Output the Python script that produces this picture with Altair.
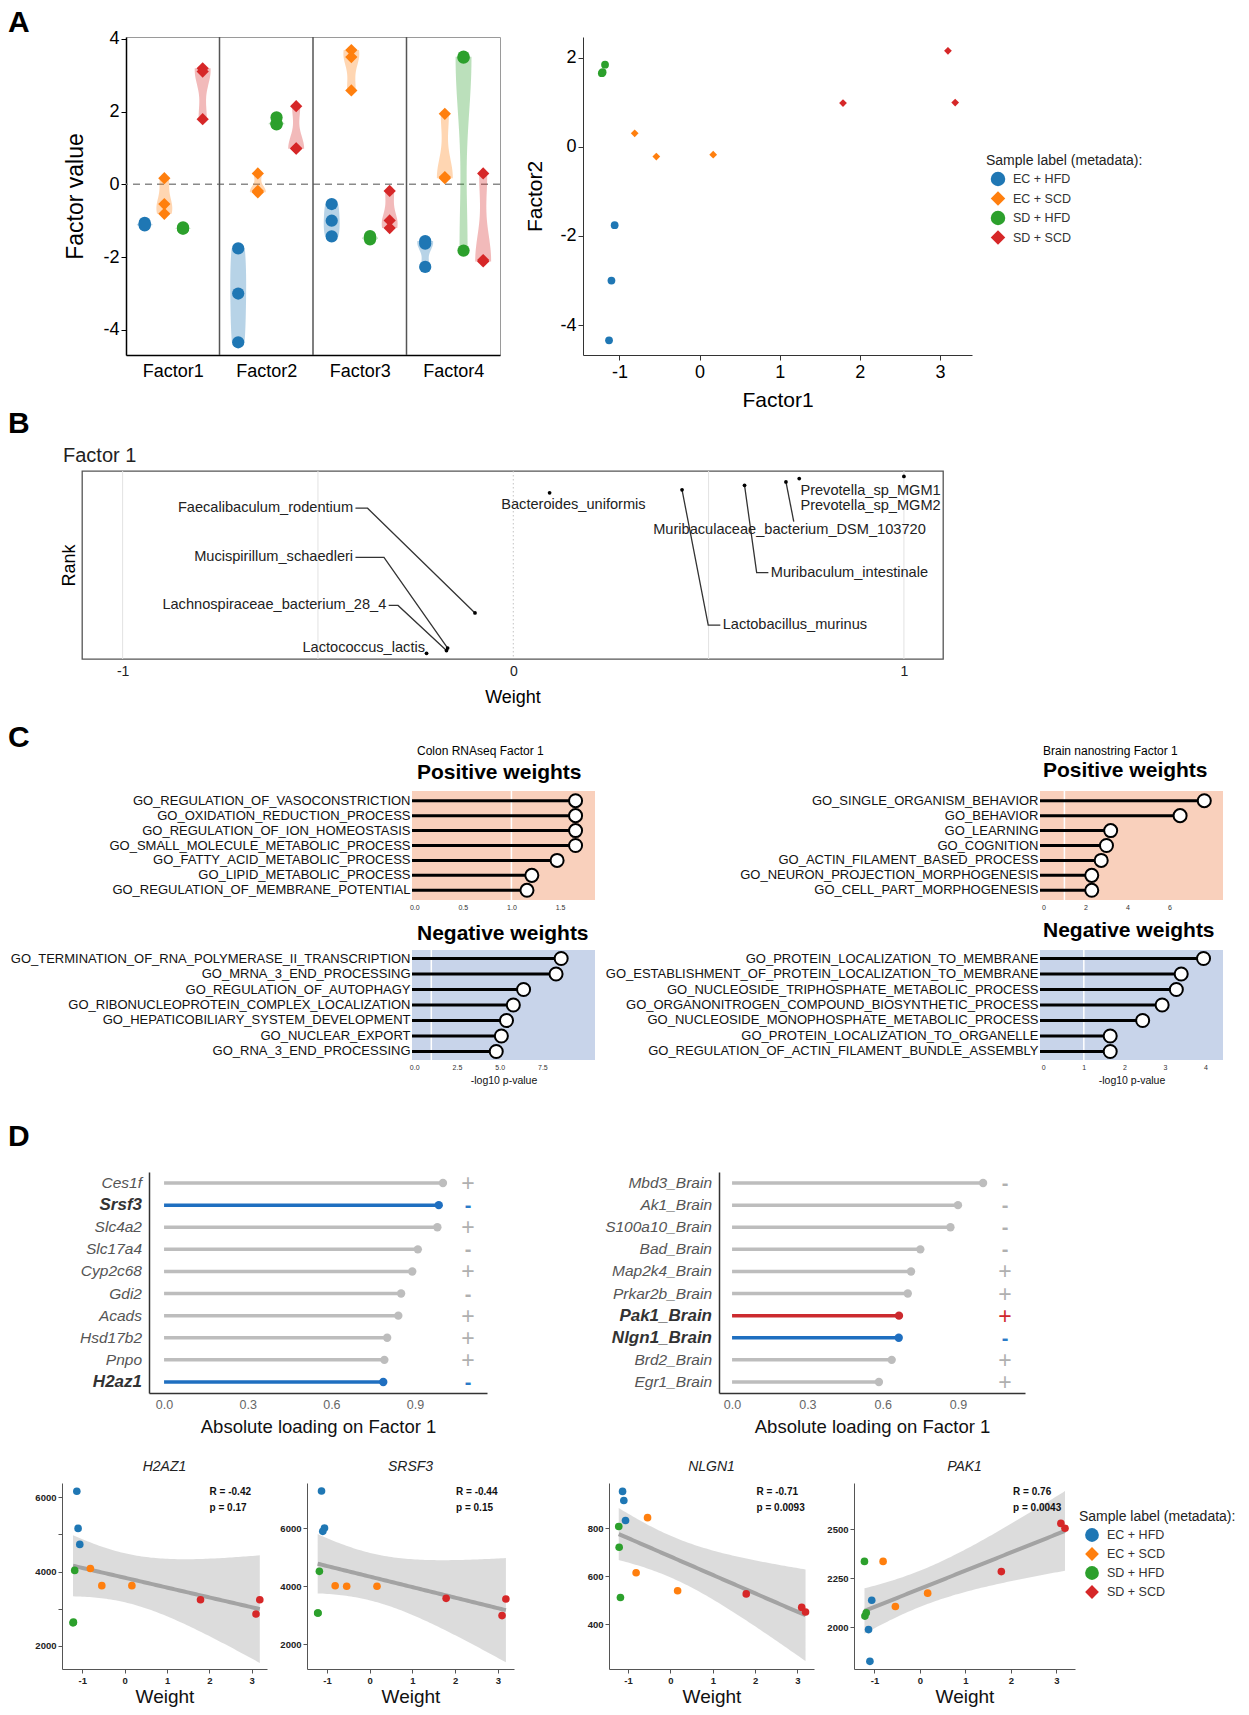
import altair as alt
import numpy as np
import pandas as pd

FONT = "Liberation Sans"
MINUS_FIX = "replace(datum.label, '\u2212', '-')"

# ---------------- shared sample data ----------------
groups = ["EC + HFD", "EC + SCD", "SD + HFD", "SD + SCD"]
sample_group = ["EC + HFD"] * 3 + ["EC + SCD"] * 3 + ["SD + HFD"] * 3 + ["SD + SCD"] * 3
factor_names = ["Factor1", "Factor2", "Factor3", "Factor4"]
factor1 = [-1.06, -1.10, -1.13, -0.81, -0.54, 0.17, -1.22, -1.21, -1.18, 1.79, 3.10, 3.19]
factor2 = [-1.76, -3.00, -4.34, 0.30, -0.22, -0.18, 1.65, 1.67, 1.84, 0.98, 2.15, 0.99]
factor3 = [-0.54, -1.00, -1.43, 3.69, 3.50, 2.58, -1.51, -1.47, -1.42, -0.18, -0.99, -1.20]
factor4 = [-1.56, -1.63, -2.27, 1.94, 0.17, 0.20, 3.51, 3.48, -1.82, 0.30, -2.12, -2.08]

# ---------------- panel B ----------------
b_species = ["Prevotella_sp_MGM1", "Prevotella_sp_MGM2", "Muribaculaceae_bacterium_DSM_103720",
             "Muribaculum_intestinale", "Lactobacillus_murinus", "Bacteroides_uniformis",
             "Faecalibaculum_rodentium", "Mucispirillum_schaedleri", "Lachnospiraceae_bacterium_28_4",
             "Lactococcus_lactis"]
b_weight = [1.00, 0.732, 0.698, 0.592, 0.432, 0.093, -0.098, -0.168, -0.171, -0.222]
b_rank = [0.971, 0.960, 0.942, 0.924, 0.900, 0.884, 0.245, 0.058, 0.045, 0.030]
# label placement (repel layout, in data units)
b_lab_x = [0.735, 0.735, 0.707, 0.659, 0.536, 0.154, -0.41, -0.41, -0.325, -0.226]
b_lab_y = [0.895, 0.814, 0.686, 0.459, 0.180, 0.820, 0.802, 0.541, 0.285, 0.058]
b_lab_align = ["left", "left", "center", "left", "left", "center", "right", "right", "right", "right"]
b_elbow_x = [None, None, 0.718, 0.623, 0.499, None, -0.373, -0.331, -0.295, None]

# ---------------- panel C ----------------
colon_pos_terms = ["GO_REGULATION_OF_VASOCONSTRICTION", "GO_OXIDATION_REDUCTION_PROCESS",
                   "GO_REGULATION_OF_ION_HOMEOSTASIS", "GO_SMALL_MOLECULE_METABOLIC_PROCESS",
                   "GO_FATTY_ACID_METABOLIC_PROCESS", "GO_LIPID_METABOLIC_PROCESS",
                   "GO_REGULATION_OF_MEMBRANE_POTENTIAL"]
colon_pos_vals = [1.66, 1.66, 1.66, 1.66, 1.47, 1.21, 1.16]
colon_neg_terms = ["GO_TERMINATION_OF_RNA_POLYMERASE_II_TRANSCRIPTION", "GO_MRNA_3_END_PROCESSING",
                   "GO_REGULATION_OF_AUTOPHAGY", "GO_RIBONUCLEOPROTEIN_COMPLEX_LOCALIZATION",
                   "GO_HEPATICOBILIARY_SYSTEM_DEVELOPMENT", "GO_NUCLEAR_EXPORT", "GO_RNA_3_END_PROCESSING"]
colon_neg_vals = [8.6, 8.3, 6.4, 5.8, 5.4, 5.1, 4.8]
brain_pos_terms = ["GO_SINGLE_ORGANISM_BEHAVIOR", "GO_BEHAVIOR", "GO_LEARNING", "GO_COGNITION",
                   "GO_ACTIN_FILAMENT_BASED_PROCESS", "GO_NEURON_PROJECTION_MORPHOGENESIS",
                   "GO_CELL_PART_MORPHOGENESIS"]
brain_pos_vals = [7.65, 6.5, 3.2, 3.0, 2.75, 2.3, 2.3]
brain_neg_terms = ["GO_PROTEIN_LOCALIZATION_TO_MEMBRANE", "GO_ESTABLISHMENT_OF_PROTEIN_LOCALIZATION_TO_MEMBRANE",
                   "GO_NUCLEOSIDE_TRIPHOSPHATE_METABOLIC_PROCESS", "GO_ORGANONITROGEN_COMPOUND_BIOSYNTHETIC_PROCESS",
                   "GO_NUCLEOSIDE_MONOPHOSPHATE_METABOLIC_PROCESS", "GO_PROTEIN_LOCALIZATION_TO_ORGANELLE",
                   "GO_REGULATION_OF_ACTIN_FILAMENT_BUNDLE_ASSEMBLY"]
brain_neg_vals = [3.95, 3.4, 3.28, 2.93, 2.45, 1.65, 1.65]

# ---------------- panel D ----------------
colon_genes = ["Ces1f", "Srsf3", "Slc4a2", "Slc17a4", "Cyp2c68", "Gdi2", "Acads", "Hsd17b2", "Pnpo", "H2az1"]
colon_load = [1.00, 0.985, 0.98, 0.91, 0.89, 0.85, 0.84, 0.80, 0.79, 0.786]
colon_sign = ["+", "-", "+", "-", "+", "-", "+", "+", "+", "-"]
colon_hl = ["none", "neg", "none", "none", "none", "none", "none", "none", "none", "neg"]
brain_genes = ["Mbd3_Brain", "Ak1_Brain", "S100a10_Brain", "Bad_Brain", "Map2k4_Brain", "Prkar2b_Brain",
               "Pak1_Brain", "Nlgn1_Brain", "Brd2_Brain", "Egr1_Brain"]
brain_load = [1.00, 0.90, 0.87, 0.75, 0.713, 0.70, 0.665, 0.664, 0.636, 0.585]
brain_sign = ["-", "-", "-", "-", "+", "+", "+", "-", "+", "+"]
brain_hl = ["none", "none", "none", "none", "none", "none", "pos", "neg", "none", "none"]

h2az1 = [4730, 5160, 6160, 4080, 3620, 3620, 2620, 2640, 4030, 3240, 2860, 3240]
srsf3 = [6000, 5885, 7276, 4010, 3990, 3990, 3070, 3070, 4506, 3575, 2980, 3550]
nlgn1 = [832, 915, 953, 615, 844, 540, 807, 721, 512, 527, 471, 452]
pak1 = [2138, 1826, 1988, 2336, 2106, 2174, 2336, 2057, 2074, 2284, 2530, 2505]

# ---------------- styles ----------------
colors = ["#1f77b4", "#ff7f0e", "#2ca02c", "#d62728"]
shapes = ["circle", "diamond", "circle", "diamond"]
group_pos = [0.20, 0.41, 0.61, 0.82]
col_scale = alt.Scale(domain=groups, range=colors)
shape_scale = alt.Scale(domain=groups, range=shapes)


def spacer(w, h, letter="", ly=0):
    return alt.Chart(pd.DataFrame({"t": [letter]})).mark_text(
        align="left", baseline="alphabetic", fontSize=30, fontWeight="bold", color="black", font=FONT
    ).encode(text="t:N", x=alt.value(0), y=alt.value(ly)).properties(width=w, height=h)


# ================= Panel A: violins =================
rowsA = []
for fi, vals in enumerate([factor1, factor2, factor3, factor4]):
    for s, v in enumerate(vals):
        gi = groups.index(sample_group[s])
        rowsA.append(dict(factor=factor_names[fi], group=sample_group[s], value=v, pos=fi + group_pos[gi]))
dfA = pd.DataFrame(rowsA)

xA = alt.Scale(domain=[0, 4], nice=False, zero=False)
yA = alt.Scale(domain=[-4.69, 4.05], nice=False, zero=False)
xaxA = alt.Axis(values=[0.5, 1.5, 2.5, 3.5], labelExpr="['Factor1','Factor2','Factor3','Factor4'][floor(datum.value)]",
                ticks=False, labelFontSize=18, labelColor="black", domainColor="black", domainWidth=1.5,
                labelPadding=7, title=None, grid=False)
yaxA = alt.Axis(values=[-4, -2, 0, 2, 4], labelExpr=MINUS_FIX, labelFontSize=18, labelColor="black",
                domainColor="black", domainWidth=1.5, tickColor="black", tickSize=5, title="Factor value",
                titleFontSize=23, titleFontWeight="normal", titlePadding=15, grid=False)

violin_area = alt.Chart(dfA).transform_density(
    density="value", groupby=["factor", "group", "pos"], as_=["value", "density"], resolve="independent"
).transform_joinaggregate(maxd="max(density)", groupby=["factor", "group"]).transform_calculate(
    xl="datum.pos - 0.085*datum.density/datum.maxd", xr="datum.pos + 0.085*datum.density/datum.maxd"
).mark_area(orient="horizontal", opacity=0.32).encode(
    y=alt.Y("value:Q", scale=yA, axis=yaxA),
    x=alt.X("xl:Q", scale=xA, axis=xaxA),
    x2="xr:Q",
    color=alt.Color("group:N", scale=col_scale, legend=None),
    detail="factor:N",
)
violin_pts = alt.Chart(dfA).mark_point(filled=True, size=150, opacity=1).encode(
    x=alt.X("pos:Q", scale=xA, axis=xaxA),
    y=alt.Y("value:Q", scale=yA, axis=yaxA),
    color=alt.Color("group:N", scale=col_scale, legend=None),
    shape=alt.Shape("group:N", scale=shape_scale, legend=None),
)
zero_rule = alt.Chart(pd.DataFrame({"z": [0]})).mark_rule(color="#8a8a8a", strokeDash=[7, 5], strokeWidth=1.5).encode(
    y=alt.Y("z:Q", scale=yA, axis=yaxA))
sep_rule = alt.Chart(pd.DataFrame({"s": [1, 2, 3]})).mark_rule(color="#555555", strokeWidth=1.5).encode(
    x=alt.X("s:Q", scale=xA, axis=xaxA))
violin = alt.layer(zero_rule, violin_area, sep_rule, violin_pts).properties(
    width=374, height=318, view=alt.ViewBackground(stroke="#9a9a9a", strokeWidth=1))

# ================= Panel A: scatter =================
dfS = pd.DataFrame({"f1": factor1, "f2": factor2, "group": sample_group})
scatter = alt.Chart(dfS).mark_point(filled=True, size=60, opacity=1).encode(
    x=alt.X("f1:Q", scale=alt.Scale(domain=[-1.455, 3.40], nice=False, zero=False),
            axis=alt.Axis(values=[-1, 0, 1, 2, 3], labelExpr=MINUS_FIX, labelFontSize=18, labelColor="black",
                          tickColor="#333", domainColor="#333", tickSize=5, labelPadding=3, title="Factor1",
                          titleFontSize=21, titleFontWeight="normal", titlePadding=8, grid=False)),
    y=alt.Y("f2:Q", scale=alt.Scale(domain=[-4.67, 2.46], nice=False, zero=False),
            axis=alt.Axis(values=[-4, -2, 0, 2], labelExpr=MINUS_FIX, labelFontSize=18, labelColor="black",
                          tickColor="#333", domainColor="#333", tickSize=5, title="Factor2", titleFontSize=21,
                          titleFontWeight="normal", titlePadding=14, grid=False)),
    color=alt.Color("group:N", scale=col_scale, legend=None),
    shape=alt.Shape("group:N", scale=shape_scale, legend=None),
).properties(width=389, height=318)


def legend_chart(w, h, title_x, title_y, sym_x, txt_x, y0, dy, title_size, txt_size, sym_size):
    dfl = pd.DataFrame({"group": groups})
    dfl["py"] = [y0 + dy * i for i in range(len(groups))]
    title = alt.Chart(pd.DataFrame({"t": ["Sample label (metadata):"]})).mark_text(
        align="left", baseline="middle", fontSize=title_size, color="#222", font=FONT
    ).encode(text="t:N", x=alt.value(title_x), y=alt.value(title_y))
    syms = alt.Chart(dfl).mark_point(filled=True, size=sym_size, opacity=1).encode(
        x=alt.value(sym_x), y=alt.Y("py:Q", scale=None),
        color=alt.Color("group:N", scale=col_scale, legend=None),
        shape=alt.Shape("group:N", scale=shape_scale, legend=None))
    txt = alt.Chart(dfl).mark_text(align="left", baseline="middle", fontSize=txt_size, color="#333", font=FONT).encode(
        x=alt.value(txt_x), y=alt.Y("py:Q", scale=None), text="group:N")
    return alt.layer(title, syms, txt).properties(width=w, height=h)


legendA = legend_chart(195, 318, 14, 124, 26, 41, 142, 19.5, 14, 12.5, 210)

# ================= Panel B =================
dfB = pd.DataFrame({"name": b_species, "w": b_weight, "r": b_rank, "lx": b_lab_x, "ly": b_lab_y,
                    "align": b_lab_align})
xB = alt.Scale(domain=[-1.104, 1.10], nice=False, zero=False)
yB = alt.Scale(domain=[0, 1], nice=False, zero=False)
xaxB = alt.Axis(values=[-1, 0, 1], labelExpr=MINUS_FIX, ticks=False, domain=False, labelFontSize=14,
                labelColor="#222", labelPadding=5, title="Weight", titleFontSize=18, titleFontWeight="normal",
                titlePadding=10, grid=False)
yaxB = alt.Axis(labels=False, ticks=False, domain=False, title="Rank", titleFontSize=18, titleFontWeight="normal",
                titlePadding=4, grid=False)

conn = []
for i, nm in enumerate(b_species):
    ex = b_elbow_x[i]
    if ex is None:
        continue
    w, r, lx, ly, al = b_weight[i], b_rank[i], b_lab_x[i], b_lab_y[i], b_lab_align[i]
    if al == "right":
        pts = [(lx + 0.006, ly), (ex, ly), (w, r)]
    elif al == "left":
        pts = [(w, r), (ex, ly), (lx - 0.006, ly)]
    else:
        pts = [(w, r), (ex, ly + 0.045)]
    for k, (px, py) in enumerate(pts):
        conn.append(dict(name=nm, k=k, x=px, y=py))
dfConn = pd.DataFrame(conn)

gridB = alt.Chart(pd.DataFrame({"g": [-1, -0.5, 0.5, 1]})).mark_rule(color="#e2e2e2", strokeWidth=1).encode(
    x=alt.X("g:Q", scale=xB, axis=xaxB))
zeroB = alt.Chart(pd.DataFrame({"z": [0]})).mark_rule(color="#c4c4c4", strokeDash=[1.5, 2.5], strokeWidth=1).encode(
    x=alt.X("z:Q", scale=xB, axis=xaxB))
linesB = alt.Chart(dfConn).mark_line(color="#333333", strokeWidth=1.3).encode(
    x=alt.X("x:Q", scale=xB, axis=xaxB), y=alt.Y("y:Q", scale=yB, axis=yaxB), detail="name:N", order="k:Q")
ptsB = alt.Chart(dfB).mark_circle(size=14, color="black", opacity=1).encode(
    x=alt.X("w:Q", scale=xB, axis=xaxB), y=alt.Y("r:Q", scale=yB, axis=yaxB))
labB = []
for al in ["left", "center", "right"]:
    labB.append(alt.Chart(dfB).transform_filter(alt.datum.align == al).mark_text(
        align=al, baseline="middle", fontSize=14.6, color="#222", font=FONT).encode(
        x=alt.X("lx:Q", scale=xB, axis=xaxB), y=alt.Y("ly:Q", scale=yB, axis=yaxB), text="name:N"))
panelB = alt.layer(gridB, zeroB, linesB, ptsB, *labB).properties(
    width=861, height=188, view=alt.ViewBackground(stroke="#555555", strokeWidth=1.3),
    title=alt.TitleParams("Factor 1", anchor="start", fontSize=20, fontWeight="normal", color="#222",
                          offset=5, dx=3, font=FONT))


# ================= Panel C =================
def go_panel(terms, vals, dom, tick_vals, tick_fmt, bg, xtitle, heads, width=183, height=109, pad_outer=0.15):
    df = pd.DataFrame({"term": terms, "val": vals})
    df["x0"] = dom[0]
    xs = alt.Scale(domain=dom, nice=False, zero=False)
    ys = alt.Scale(domain=terms, paddingInner=0, paddingOuter=pad_outer)
    xax = alt.Axis(values=tick_vals, format=tick_fmt, labelFontSize=7, ticks=False, domain=False, grid=False,
                   labelPadding=3, labelColor="#333", title=xtitle, titleFontSize=10.5,
                   titleFontWeight="normal", titlePadding=5, titleColor="#111")
    yax = alt.Axis(title=None, ticks=False, domain=False, labelFontSize=13, labelPadding=2, labelColor="#111",
                   labelLimit=800, grid=False)
    thr = alt.Chart(pd.DataFrame({"t": [1]})).mark_rule(color="white", strokeWidth=1.5).encode(
        x=alt.X("t:Q", scale=xs, axis=xax))
    seg = alt.Chart(df).mark_rule(color="black", strokeWidth=3).encode(
        y=alt.Y("term:N", scale=ys, axis=yax), x=alt.X("x0:Q", scale=xs, axis=xax), x2="val:Q")
    pts = alt.Chart(df).mark_point(filled=True, fill="white", stroke="black", strokeWidth=2, size=170,
                                   opacity=1, fillOpacity=1).encode(
        y=alt.Y("term:N", scale=ys, axis=yax), x=alt.X("val:Q", scale=xs, axis=xax))
    layers = [thr, seg, pts]
    for txt, dx, dy, size, weight in heads:
        layers.append(alt.Chart(pd.DataFrame({"t": [txt]})).mark_text(
            align="left", baseline="middle", fontSize=size, fontWeight=weight, color="black", font=FONT
        ).encode(text="t:N", x=alt.value(dx), y=alt.value(dy)))
    return alt.layer(*layers).properties(width=width, height=height,
                                         view=alt.ViewBackground(fill=bg, stroke=None))


POS_BG = "#f9d0bc"
NEG_BG = "#c8d4ea"
colonPos = go_panel(colon_pos_terms, colon_pos_vals, [-0.023, 1.86], [0, 0.5, 1.0, 1.5], ".1f", POS_BG, None,
                    [("Colon RNAseq Factor 1", 5, -40, 12, "normal"), ("Positive weights", 5, -18, 21, "bold")])
colonNeg = go_panel(colon_neg_terms, colon_neg_vals, [-0.13, 10.58], [0, 2.5, 5.0, 7.5], ".1f", NEG_BG,
                    "-log10 p-value", [("Negative weights", 5, -16, 21, "bold")], height=110, pad_outer=0.05)
brainPos = go_panel(brain_pos_terms, brain_pos_vals, [-0.16, 8.54], [0, 2, 4, 6], "d", POS_BG, None,
                    [("Brain nanostring Factor 1", 3, -40, 12, "normal"), ("Positive weights", 3, -20, 21, "bold")])
brainNeg = go_panel(brain_neg_terms, brain_neg_vals, [-0.08, 4.43], [0, 1, 2, 3, 4], "d", NEG_BG,
                    "-log10 p-value", [("Negative weights", 3, -19, 21, "bold")], height=110, pad_outer=0.05)

# ================= Panel D top: loadings =================
KIND_LINE = {"none": "#bdbdbd", "neg": "#1f6fc0", "pos": "#cc2a2f"}
KIND_SIGN = {"none": "#b0b0b0", "neg": "#2a7bc8", "pos": "#d0282e"}


def load_panel(genes, vals, signs, hl, dom, width, sign_px, height=221):
    df = pd.DataFrame({"gene": genes, "val": vals, "sign": signs, "kind": hl})
    df["x0"] = 0.0
    xs = alt.Scale(domain=dom, nice=False, zero=False)
    ys = alt.Scale(domain=genes, paddingInner=0, paddingOuter=0)
    xax = alt.Axis(values=[0, 0.3, 0.6, 0.9], format=".1f", labelColor="#666", labelFontSize=12.5, ticks=False,
                   domainColor="#333", domainWidth=1.5, labelPadding=5, title="Absolute loading on Factor 1",
                   titleFontSize=18.5, titleFontWeight="normal", titleColor="#111", titlePadding=7, grid=False)
    yax = alt.Axis(labels=False, ticks=False, domainColor="#333", domainWidth=1.5, title=None, grid=False)
    base = alt.Chart(df)
    layers = []
    for kind in ["none", "neg", "pos"]:
        if kind not in hl:
            continue
        sub = base.transform_filter(alt.datum.kind == kind)
        layers.append(sub.mark_rule(strokeWidth=3.5, color=KIND_LINE[kind]).encode(
            y=alt.Y("gene:N", scale=ys, axis=yax), x=alt.X("x0:Q", scale=xs, axis=xax), x2="val:Q"))
        layers.append(sub.mark_circle(size=70, opacity=1, color=KIND_LINE[kind]).encode(
            y=alt.Y("gene:N", scale=ys, axis=yax), x=alt.X("val:Q", scale=xs, axis=xax)))
        layers.append(sub.transform_filter(alt.datum.sign == "+").mark_text(
            align="center", baseline="middle", fontSize=23, fontWeight=300, font=FONT, dy=1,
            color=KIND_SIGN[kind]).encode(y=alt.Y("gene:N", scale=ys, axis=yax), x=alt.value(sign_px),
                                          text="sign:N"))
        layers.append(sub.transform_filter(alt.datum.sign == "-").mark_text(
            align="center", baseline="middle", fontSize=20, fontWeight="bold", font=FONT, dy=1,
            color=KIND_SIGN[kind]).encode(y=alt.Y("gene:N", scale=ys, axis=yax), x=alt.value(sign_px),
                                          text="sign:N"))
    lab_n = base.transform_filter(alt.datum.kind == "none").mark_text(
        align="right", baseline="middle", fontSize=15.5, fontStyle="italic", color="#555", font=FONT).encode(
        y=alt.Y("gene:N", scale=ys, axis=yax), x=alt.value(-7), text="gene:N")
    lab_b = base.transform_filter(alt.datum.kind != "none").mark_text(
        align="right", baseline="middle", fontSize=17, fontStyle="italic", fontWeight="bold", color="#333",
        font=FONT).encode(y=alt.Y("gene:N", scale=ys, axis=yax), x=alt.value(-7), text="gene:N")
    return alt.layer(*layers, lab_n, lab_b).properties(width=width, height=height)


loadColon = load_panel(colon_genes, colon_load, colon_sign, colon_hl, [-0.054, 1.158], 338, 319)
loadBrain = load_panel(brain_genes, brain_load, brain_sign, brain_hl, [-0.052, 1.167], 306, 286)


# ================= Panel D bottom: expression vs weight =================
def expr_panel(title, yv, xdom, ydom, yticks, label_step, rtxt, ptxt, width, height=186):
    x = np.array(factor1, dtype=float)
    y = np.array(yv, dtype=float)
    n = len(x)
    b1, b0 = np.polyfit(x, y, 1)
    xm = x.mean()
    sxx = ((x - xm) ** 2).sum()
    s = np.sqrt(((y - (b0 + b1 * x)) ** 2).sum() / (n - 2))
    xs_ = np.linspace(x.min(), x.max(), 80)
    fit = b0 + b1 * xs_
    se = s * np.sqrt(1.0 / n + (xs_ - xm) ** 2 / sxx)
    tq = 2.228
    band = pd.DataFrame({"x": xs_, "fit": fit, "lo": fit - tq * se, "hi": fit + tq * se})
    pts = pd.DataFrame({"f1": factor1, "y": yv, "group": sample_group})
    xs = alt.Scale(domain=xdom, nice=False, zero=False)
    ys = alt.Scale(domain=ydom, nice=False, zero=False)
    xax = alt.Axis(values=[-1, 0, 1, 2, 3], labelExpr=MINUS_FIX, labelFontSize=9.5, labelFontWeight="bold",
                   labelColor="#222", tickSize=4, tickColor="#555", domainColor="#555", labelPadding=2,
                   title="Weight", titleFontSize=19, titleFontWeight="normal", titleColor="#111", titlePadding=3,
                   grid=False)
    yax = alt.Axis(values=yticks, format="d",
                   labelExpr="datum.value %% %d == 0 ? datum.label : ''" % label_step,
                   labelFontSize=9.5, labelFontWeight="bold", labelColor="#222", tickSize=4, tickColor="#555",
                   domainColor="#555", labelPadding=2, title=None, grid=False)
    area = alt.Chart(band).mark_area(color="#d6d6d6", opacity=0.85, clip=True).encode(
        x=alt.X("x:Q", scale=xs, axis=xax), y=alt.Y("lo:Q", scale=ys, axis=yax), y2="hi:Q")
    line = alt.Chart(band).mark_line(color="#a3a3a3", strokeWidth=4, clip=True).encode(
        x=alt.X("x:Q", scale=xs, axis=xax), y=alt.Y("fit:Q", scale=ys, axis=yax))
    dots = alt.Chart(pts).mark_circle(size=58, opacity=1).encode(
        x=alt.X("f1:Q", scale=xs, axis=xax), y=alt.Y("y:Q", scale=ys, axis=yax),
        color=alt.Color("group:N", scale=col_scale, legend=None))
    rx = 0.72 * width
    tr = alt.Chart(pd.DataFrame({"t": [rtxt]})).mark_text(
        align="left", baseline="middle", fontSize=10, fontWeight="bold", color="#111", font=FONT).encode(
        text="t:N", x=alt.value(rx), y=alt.value(9))
    tp = alt.Chart(pd.DataFrame({"t": [ptxt]})).mark_text(
        align="left", baseline="middle", fontSize=10, fontWeight="bold", color="#111", font=FONT).encode(
        text="t:N", x=alt.value(rx), y=alt.value(25))
    return alt.layer(area, line, dots, tr, tp).properties(
        width=width, height=height,
        title=alt.TitleParams(title, fontStyle="italic", fontSize=14, fontWeight="normal", color="#222",
                              offset=9, font=FONT))


eH2 = expr_panel("H2AZ1", h2az1, [-1.48, 3.36], [1380, 6380], [2000, 3000, 4000, 5000, 6000], 2000,
                 "R = -0.42", "p = 0.17", 205)
eSR = expr_panel("SRSF3", srsf3, [-1.47, 3.38], [1138, 7552], [2000, 4000, 6000], 2000,
                 "R = -0.44", "p = 0.15", 207)
eNL = expr_panel("NLGN1", nlgn1, [-1.45, 3.39], [215, 988], [400, 600, 800], 200,
                 "R = -0.71", "p = 0.0093", 205)
ePA = expr_panel("PAK1", pak1, [-1.45, 3.41], [1787, 2736], [2000, 2250, 2500], 250,
                 "R = 0.76", "p = 0.0043", 221)
legendD = legend_chart(152, 186, 4, 34, 17, 32, 52, 19, 14, 12.5, 190)

# ================= assemble =================
XS = 8


def row(*charts):
    return alt.hconcat(*charts, spacing=0, bounds="flush")


rowA = row(spacer(126 - XS, 318, "A", -5), violin, spacer(83, 318), scatter, legendA)
rowB = row(spacer(82 - XS, 188, "B", -38), panelB)
rowC1 = row(spacer(412 - XS, 110, "C", -44), colonPos, spacer(445, 110), brainPos)
rowC2 = row(spacer(412 - XS, 110), colonNeg, spacer(445, 110), brainNeg)
rowD1 = row(spacer(149 - XS, 221, "D", -26), loadColon, spacer(232, 221), loadBrain)
rowD2 = row(spacer(62 - XS, 186), eH2, spacer(40, 186), eSR, spacer(95, 186), eNL, spacer(40, 186), ePA, legendD)

# nested rows count as zero height in a flush stack, so the spacers carry the row-to-row offsets
chart = alt.vconcat(
    rowA, spacer(1, 434), rowB, spacer(1, 320), rowC1, spacer(1, 159), rowC2, spacer(1, 222), rowD1,
    spacer(1, 311), rowD2, spacing=0, bounds="flush"
).properties(padding=0, background="white").configure(font=FONT).configure_view(stroke=None).configure_axis(
    labelFont=FONT, titleFont=FONT)

chart.save("out.html", embed_options={"renderer": "svg", "actions": False})
